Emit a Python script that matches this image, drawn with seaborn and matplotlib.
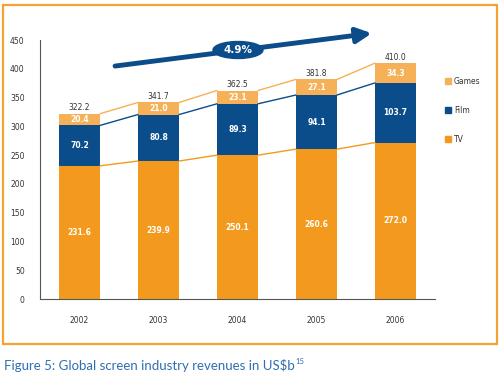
import numpy as np
import pandas as pd
import matplotlib
matplotlib.use('Agg')
import matplotlib.pyplot as plt
import seaborn as sns
from matplotlib.patches import Ellipse, Rectangle, Patch

# data ==============================================================================
years = ['2002', '2003', '2004', '2005', '2006']
tv = [231.6, 239.9, 250.1, 260.6, 272.0]
film = [70.2, 80.8, 89.3, 94.1, 103.7]
games = [20.4, 21.0, 23.1, 27.1, 34.3]
totals = [322.2, 341.7, 362.5, 381.8, 410.0]
growth_label = '4.9%'

C_TV = '#F39A1E'
C_FILM = '#0B4C8A'
C_GAMES = '#F6B057'
C_TEXT = '#333333'
C_CAPTION = '#2F6EB3'

df = pd.DataFrame({'year': years, 'tv': tv, 'film': film, 'games': games})
df['tv_film'] = df['tv'] + df['film']
df['total'] = df['tv_film'] + df['games']

sns.set_style('white')
plt.rcParams['font.family'] = ['DejaVu Sans']

fig = plt.figure(figsize=(5.0, 3.79), dpi=100)
ax = fig.add_axes([0.08, 0.211, 0.79, 0.683])

W = 0.52
# stacked by overdrawing cumulative heights
for col, c in [('total', C_GAMES), ('tv_film', C_FILM), ('tv', C_TV)]:
    sns.barplot(data=df, x='year', y=col, color=c, width=W, saturation=1,
                linewidth=0, ax=ax)

# connecting lines between bar tops
for col, c in [('tv', C_TV), ('tv_film', C_FILM), ('total', C_GAMES)]:
    v = df[col].values
    for i in range(len(v) - 1):
        ax.plot([i + W / 2, i + 1 - W / 2], [v[i], v[i + 1]], color=c, lw=1.0, zorder=1)

# value labels
lab = dict(ha='center', va='center', fontsize=5.5, fontweight='bold', color='white')
for i in range(len(years)):
    ax.text(i, tv[i] / 2, f'{tv[i]:.1f}', **lab)
    ax.text(i, tv[i] + film[i] / 2, f'{film[i]:.1f}', **lab)
    ax.text(i, tv[i] + film[i] + games[i] / 2, f'{games[i]:.1f}', **lab)
    ax.text(i, totals[i] + 10, f'{totals[i]:.1f}', ha='center', va='center',
            fontsize=5.5, color=C_TEXT)

ax.set_xlim(-0.5, 4.5)
ax.set_ylim(0, 450)
ax.set_yticks(np.arange(0, 451, 50))
ax.set_xticks(np.arange(-0.5, 4.6, 1))
ax.set_xticklabels([])
ax.set_xticks(range(len(years)), minor=True)
ax.set_xticklabels(years, minor=True)
ax.tick_params(axis='x', which='major', length=3, width=0.8, color='#555555', direction='out')
ax.tick_params(axis='x', which='minor', length=0, pad=12, labelsize=5.5, labelcolor=C_TEXT)
ax.tick_params(axis='y', length=3, width=0.8, color='#555555', labelsize=5.5,
               labelcolor=C_TEXT, pad=8)
ax.set_xlabel('')
ax.set_ylabel('')
for s in ['top', 'right']:
    ax.spines[s].set_visible(False)
for s in ['left', 'bottom']:
    ax.spines[s].set_color('#555555')
    ax.spines[s].set_linewidth(0.8)

# growth arrow with ellipse
ax.annotate('', xy=(3.70, 462), xytext=(0.45, 405), annotation_clip=False,
            arrowprops=dict(arrowstyle='-|>,head_length=0.9,head_width=0.45',
                            color=C_FILM, lw=3.5, shrinkA=0, shrinkB=0))
fig.add_artist(Ellipse((238 / 500, 1 - 50 / 379), 50 / 500, 17 / 379,
                       transform=fig.transFigure, color=C_FILM, zorder=5))
fig.text(238 / 500, 1 - 50 / 379, growth_label, ha='center', va='center', color='white',
         fontsize=7.5, fontweight='bold', zorder=6)

# legend
handles = [Patch(color=C_GAMES, label='Games'), Patch(color=C_FILM, label='Film'),
           Patch(color=C_TV, label='TV')]
fig.legend(handles=handles, loc='upper left', bbox_to_anchor=(438 / 500, 1 - 70 / 379),
           frameon=False, fontsize=5.5, labelspacing=2.6, handlelength=0.8,
           handleheight=0.8, handletextpad=0.4, labelcolor=C_TEXT)

# frame and caption
fig.add_artist(Rectangle((3 / 500, 1 - 344 / 379), 494 / 500, 339 / 379,
                         transform=fig.transFigure, fill=False, edgecolor='#F6A233', lw=1.6))
cap = fig.text(4 / 500, 1 - 366 / 379, 'Figure 5: Global screen industry revenues in US$b',
               ha='left', va='center', color=C_CAPTION, fontsize=9.5, family='Lato')
fig.canvas.draw()
bb = cap.get_window_extent(fig.canvas.get_renderer())
fig.text(bb.x1 / 500 + 0.002, 1 - 361 / 379, '15', ha='left', va='center',
         color=C_CAPTION, fontsize=5.5, family='Lato')

fig.savefig('out.png', dpi=100)
